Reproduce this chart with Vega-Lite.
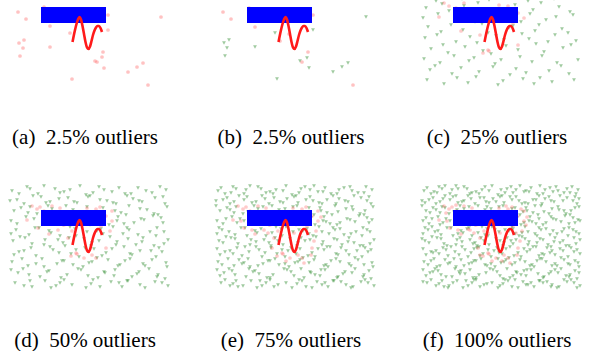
{
"$schema":"https://vega.github.io/schema/vega-lite/v6.json",
"padding":0,
"spacing":35,
"config":{"view":{"stroke":null},"axis":{"disable":true},"title":{"font":"Times New Roman, Liberation Serif, DejaVu Serif, serif","fontSize":21,"fontWeight":"normal","color":"#000000","orient":"bottom","anchor":"middle","offset":32}},
"datasets":{
"block":[{"x":41,"x2":106,"y":7,"y2":23}],
"curve":[{"x":72.5,"y":42},{"x":73.5,"y":37},{"x":75,"y":30},{"x":76.5,"y":24},{"x":78,"y":19.5},{"x":79.5,"y":17},{"x":81,"y":19.5},{"x":82.5,"y":26},{"x":84,"y":34},{"x":85.5,"y":42},{"x":87,"y":47.5},{"x":88.5,"y":49},{"x":90,"y":46.5},{"x":91.5,"y":41},{"x":93,"y":35},{"x":94.5,"y":30.5},{"x":96,"y":27.5},{"x":97.5,"y":26},{"x":99,"y":26},{"x":100.5,"y":28},{"x":102,"y":32}],
"sparse":[
{"p":"a","k":"r","x":18,"y":12},{"p":"a","k":"r","x":26,"y":19},{"p":"a","k":"r","x":44,"y":7},{"p":"a","k":"r","x":108,"y":15},{"p":"a","k":"r","x":50,"y":26},{"p":"a","k":"r","x":70,"y":33},{"p":"a","k":"r","x":108,"y":30},{"p":"a","k":"r","x":24,"y":40},{"p":"a","k":"r","x":19,"y":43},{"p":"a","k":"r","x":23,"y":48},{"p":"a","k":"r","x":50,"y":47},{"p":"a","k":"r","x":20,"y":56},{"p":"a","k":"r","x":103,"y":52},{"p":"a","k":"r","x":102,"y":57},{"p":"a","k":"r","x":95,"y":61},{"p":"a","k":"r","x":97,"y":62},{"p":"a","k":"r","x":104,"y":68},{"p":"a","k":"r","x":72,"y":79},{"p":"a","k":"r","x":128,"y":72},{"p":"a","k":"r","x":137,"y":67},{"p":"a","k":"r","x":143,"y":63},{"p":"a","k":"r","x":148,"y":85},{"p":"a","k":"r","x":161,"y":17},
{"p":"b","k":"r","x":17,"y":12},{"p":"b","k":"r","x":25,"y":19},{"p":"b","k":"r","x":43,"y":8},{"p":"b","k":"r","x":104,"y":9},{"p":"b","k":"r","x":107,"y":15},{"p":"b","k":"r","x":49,"y":27},{"p":"b","k":"r","x":83,"y":34},{"p":"b","k":"r","x":102,"y":52},{"p":"b","k":"r","x":96,"y":62},{"p":"b","k":"r","x":147,"y":85},{"p":"b","k":"r","x":74,"y":41},
{"p":"b","k":"g","x":160,"y":17},{"p":"b","k":"g","x":107,"y":30},{"p":"b","k":"g","x":69,"y":33},{"p":"b","k":"g","x":23,"y":40},{"p":"b","k":"g","x":18,"y":43},{"p":"b","k":"g","x":21,"y":48},{"p":"b","k":"g","x":49,"y":47},{"p":"b","k":"g","x":19,"y":56},{"p":"b","k":"g","x":101,"y":58},{"p":"b","k":"g","x":94,"y":61},{"p":"b","k":"g","x":103,"y":68},{"p":"b","k":"g","x":71,"y":79},{"p":"b","k":"g","x":127,"y":72},{"p":"b","k":"g","x":136,"y":67},{"p":"b","k":"g","x":142,"y":63}],
"pink":[
{"l":1,"x":32,"y":3},{"l":1,"x":37,"y":6},{"l":1,"x":52,"y":3},{"l":1,"x":44,"y":8},{"l":1,"x":106,"y":13},{"l":1,"x":96,"y":6},{"l":1,"x":27,"y":17},{"l":1,"x":49,"y":31},{"l":1,"x":68,"y":35},{"l":1,"x":76,"y":50},{"l":1,"x":77,"y":51},{"l":1,"x":106,"y":45},{"l":1,"x":112,"y":18},{"l":1,"x":87,"y":5},{"l":1,"x":71,"y":53},{"l":1,"x":101,"y":23},
{"l":2,"x":38,"y":25},{"l":2,"x":58,"y":27},{"l":2,"x":110,"y":28},{"l":2,"x":64,"y":22},{"l":2,"x":92,"y":52},{"l":2,"x":96,"y":55},{"l":2,"x":84,"y":55},{"l":2,"x":72,"y":28},{"l":2,"x":112,"y":8},{"l":2,"x":40,"y":4},{"l":2,"x":60,"y":5},{"l":2,"x":100,"y":4},
{"l":3,"x":35,"y":18},{"l":3,"x":62,"y":30},{"l":3,"x":108,"y":38},{"l":3,"x":80,"y":58},{"l":3,"x":88,"y":30},{"l":3,"x":115,"y":14},{"l":3,"x":46,"y":27},{"l":3,"x":105,"y":52},{"l":3,"x":66,"y":45},{"l":3,"x":98,"y":60},
{"l":4,"x":34,"y":10},{"l":4,"x":56,"y":26},{"l":4,"x":114,"y":22},{"l":4,"x":90,"y":58},{"l":4,"x":76,"y":30},{"l":4,"x":104,"y":30},{"l":4,"x":44,"y":2},{"l":4,"x":94,"y":3},{"l":4,"x":68,"y":52},{"l":4,"x":109,"y":6}],
"green":[
{"l":1,"x":12,"y":-12},{"l":1,"x":27,"y":-16},{"l":1,"x":38,"y":-9},{"l":1,"x":55,"y":-14},{"l":1,"x":64,"y":-11},{"l":1,"x":80,"y":-17},{"l":1,"x":93,"y":-10},{"l":1,"x":104,"y":-13},{"l":1,"x":119,"y":-15},{"l":1,"x":131,"y":-9},{"l":1,"x":146,"y":-12},{"l":1,"x":160,"y":-16},
{"l":1,"x":17,"y":-3},{"l":1,"x":24,"y":1},{"l":1,"x":41,"y":-6},{"l":1,"x":50,"y":-1},{"l":1,"x":68,"y":-5},{"l":1,"x":77,"y":0},{"l":1,"x":90,"y":-7},{"l":1,"x":107,"y":-2},{"l":1,"x":116,"y":1},{"l":1,"x":133,"y":-4},{"l":1,"x":142,"y":-1},{"l":1,"x":163,"y":-6},
{"l":1,"x":14,"y":8},{"l":1,"x":30,"y":4},{"l":1,"x":37,"y":11},{"l":1,"x":52,"y":6},{"l":1,"x":66,"y":3},{"l":1,"x":82,"y":9},{"l":1,"x":95,"y":12},{"l":1,"x":103,"y":5},{"l":1,"x":121,"y":10},{"l":1,"x":129,"y":3},{"l":1,"x":147,"y":7},{"l":1,"x":158,"y":12},
{"l":1,"x":11,"y":18},{"l":1,"x":26,"y":14},{"l":1,"x":43,"y":21},{"l":1,"x":54,"y":16},{"l":1,"x":63,"y":22},{"l":1,"x":78,"y":15},{"l":1,"x":88,"y":19},{"l":1,"x":109,"y":22},{"l":1,"x":118,"y":14},{"l":1,"x":134,"y":20},{"l":1,"x":144,"y":17},{"l":1,"x":161,"y":15},
{"l":1,"x":16,"y":27},{"l":1,"x":29,"y":32},{"l":1,"x":39,"y":25},{"l":1,"x":51,"y":30},{"l":1,"x":70,"y":24},{"l":1,"x":76,"y":33},{"l":1,"x":97,"y":28},{"l":1,"x":101,"y":26},{"l":1,"x":123,"y":31},{"l":1,"x":127,"y":25},{"l":1,"x":150,"y":29},{"l":1,"x":156,"y":33},
{"l":1,"x":13,"y":38},{"l":1,"x":25,"y":35},{"l":1,"x":44,"y":42},{"l":1,"x":58,"y":37},{"l":1,"x":65,"y":43},{"l":1,"x":84,"y":36},{"l":1,"x":92,"y":40},{"l":1,"x":110,"y":34},{"l":1,"x":117,"y":39},{"l":1,"x":136,"y":42},{"l":1,"x":143,"y":35},{"l":1,"x":164,"y":41},
{"l":1,"x":19,"y":49},{"l":1,"x":31,"y":45},{"l":1,"x":36,"y":53},{"l":1,"x":53,"y":47},{"l":1,"x":71,"y":51},{"l":1,"x":79,"y":54},{"l":1,"x":94,"y":46},{"l":1,"x":106,"y":50},{"l":1,"x":124,"y":44},{"l":1,"x":132,"y":52},{"l":1,"x":151,"y":48},{"l":1,"x":159,"y":45},
{"l":1,"x":12,"y":59},{"l":1,"x":28,"y":63},{"l":1,"x":42,"y":56},{"l":1,"x":57,"y":61},{"l":1,"x":62,"y":58},{"l":1,"x":83,"y":64},{"l":1,"x":89,"y":60},{"l":1,"x":108,"y":57},{"l":1,"x":120,"y":62},{"l":1,"x":130,"y":56},{"l":1,"x":145,"y":63},{"l":1,"x":166,"y":60},
{"l":1,"x":18,"y":70},{"l":1,"x":23,"y":66},{"l":1,"x":40,"y":74},{"l":1,"x":49,"y":68},{"l":1,"x":67,"y":72},{"l":1,"x":81,"y":67},{"l":1,"x":98,"y":75},{"l":1,"x":104,"y":69},{"l":1,"x":114,"y":73},{"l":1,"x":137,"y":71},{"l":1,"x":149,"y":66},{"l":1,"x":157,"y":74},
{"l":1,"x":15,"y":80},{"l":1,"x":32,"y":84},{"l":1,"x":45,"y":78},{"l":1,"x":56,"y":83},{"l":1,"x":64,"y":77},{"l":1,"x":86,"y":85},{"l":1,"x":91,"y":81},{"l":1,"x":111,"y":79},{"l":1,"x":122,"y":84},{"l":1,"x":128,"y":78},{"l":1,"x":140,"y":82},{"l":1,"x":162,"y":80},
{"l":2,"x":19,"y":-9},{"l":2,"x":30,"y":-14},{"l":2,"x":44,"y":-17},{"l":2,"x":60,"y":-10},{"l":2,"x":70,"y":-13},{"l":2,"x":86,"y":-8},{"l":2,"x":99,"y":-16},{"l":2,"x":112,"y":-11},{"l":2,"x":125,"y":-9},{"l":2,"x":138,"y":-15},{"l":2,"x":152,"y":-10},{"l":2,"x":166,"y":-13},
{"l":2,"x":10,"y":-2},{"l":2,"x":33,"y":-7},{"l":2,"x":46,"y":0},{"l":2,"x":59,"y":-4},{"l":2,"x":74,"y":-1},{"l":2,"x":88,"y":-6},{"l":2,"x":100,"y":-3},{"l":2,"x":113,"y":0},{"l":2,"x":127,"y":-7},{"l":2,"x":139,"y":-2},{"l":2,"x":155,"y":-5},{"l":2,"x":165,"y":1},
{"l":2,"x":21,"y":5},{"l":2,"x":28,"y":10},{"l":2,"x":48,"y":3},{"l":2,"x":61,"y":12},{"l":2,"x":73,"y":7},{"l":2,"x":87,"y":4},{"l":2,"x":96,"y":10},{"l":2,"x":115,"y":8},{"l":2,"x":126,"y":12},{"l":2,"x":140,"y":6},{"l":2,"x":154,"y":11},{"l":2,"x":167,"y":4},
{"l":2,"x":17,"y":21},{"l":2,"x":34,"y":16},{"l":2,"x":47,"y":14},{"l":2,"x":62,"y":19},{"l":2,"x":72,"y":17},{"l":2,"x":90,"y":22},{"l":2,"x":101,"y":14},{"l":2,"x":117,"y":18},{"l":2,"x":124,"y":21},{"l":2,"x":141,"y":16},{"l":2,"x":153,"y":13},{"l":2,"x":163,"y":20},
{"l":2,"x":11,"y":31},{"l":2,"x":35,"y":25},{"l":2,"x":49,"y":28},{"l":2,"x":60,"y":33},{"l":2,"x":75,"y":26},{"l":2,"x":87,"y":29},{"l":2,"x":103,"y":31},{"l":2,"x":113,"y":24},{"l":2,"x":129,"y":27},{"l":2,"x":138,"y":32},{"l":2,"x":157,"y":25},{"l":2,"x":164,"y":29},
{"l":2,"x":20,"y":34},{"l":2,"x":32,"y":41},{"l":2,"x":45,"y":37},{"l":2,"x":63,"y":40},{"l":2,"x":69,"y":35},{"l":2,"x":91,"y":43},{"l":2,"x":99,"y":38},{"l":2,"x":116,"y":42},{"l":2,"x":128,"y":36},{"l":2,"x":142,"y":39},{"l":2,"x":154,"y":43},{"l":2,"x":168,"y":37},
{"l":2,"x":14,"y":52},{"l":2,"x":24,"y":48},{"l":2,"x":50,"y":44},{"l":2,"x":59,"y":50},{"l":2,"x":76,"y":47},{"l":2,"x":85,"y":45},{"l":2,"x":102,"y":53},{"l":2,"x":112,"y":46},{"l":2,"x":130,"y":51},{"l":2,"x":140,"y":48},{"l":2,"x":156,"y":54},{"l":2,"x":162,"y":49},
{"l":2,"x":22,"y":56},{"l":2,"x":36,"y":61},{"l":2,"x":44,"y":64},{"l":2,"x":64,"y":58},{"l":2,"x":73,"y":62},{"l":2,"x":92,"y":59},{"l":2,"x":97,"y":55},{"l":2,"x":118,"y":63},{"l":2,"x":125,"y":58},{"l":2,"x":143,"y":61},{"l":2,"x":152,"y":57},{"l":2,"x":167,"y":64},
{"l":2,"x":11,"y":67},{"l":2,"x":29,"y":72},{"l":2,"x":47,"y":69},{"l":2,"x":61,"y":75},{"l":2,"x":78,"y":66},{"l":2,"x":88,"y":73},{"l":2,"x":105,"y":70},{"l":2,"x":115,"y":67},{"l":2,"x":132,"y":74},{"l":2,"x":139,"y":69},{"l":2,"x":158,"y":72},{"l":2,"x":165,"y":76},
{"l":2,"x":24,"y":83},{"l":2,"x":30,"y":78},{"l":2,"x":51,"y":85},{"l":2,"x":60,"y":80},{"l":2,"x":72,"y":82},{"l":2,"x":93,"y":77},{"l":2,"x":100,"y":84},{"l":2,"x":119,"y":80},{"l":2,"x":127,"y":78},{"l":2,"x":145,"y":85},{"l":2,"x":155,"y":79},{"l":2,"x":168,"y":83},
{"l":3,"x":15,"y":-15},{"l":3,"x":25,"y":-10},{"l":3,"x":40,"y":-13},{"l":3,"x":52,"y":-16},{"l":3,"x":67,"y":-9},{"l":3,"x":77,"y":-12},{"l":3,"x":95,"y":-14},{"l":3,"x":108,"y":-17},{"l":3,"x":117,"y":-11},{"l":3,"x":133,"y":-13},{"l":3,"x":144,"y":-16},{"l":3,"x":158,"y":-10},
{"l":3,"x":21,"y":-5},{"l":3,"x":28,"y":-1},{"l":3,"x":38,"y":-3},{"l":3,"x":56,"y":-7},{"l":3,"x":63,"y":1},{"l":3,"x":81,"y":-4},{"l":3,"x":92,"y":0},{"l":3,"x":104,"y":-6},{"l":3,"x":121,"y":-3},{"l":3,"x":130,"y":1},{"l":3,"x":148,"y":-7},{"l":3,"x":161,"y":-2},
{"l":3,"x":10,"y":3},{"l":3,"x":24,"y":7},{"l":3,"x":42,"y":9},{"l":3,"x":57,"y":4},{"l":3,"x":69,"y":11},{"l":3,"x":79,"y":6},{"l":3,"x":91,"y":3},{"l":3,"x":108,"y":12},{"l":3,"x":114,"y":5},{"l":3,"x":132,"y":9},{"l":3,"x":146,"y":4},{"l":3,"x":159,"y":8},
{"l":3,"x":20,"y":16},{"l":3,"x":31,"y":20},{"l":3,"x":38,"y":18},{"l":3,"x":51,"y":14},{"l":3,"x":67,"y":20},{"l":3,"x":83,"y":17},{"l":3,"x":96,"y":21},{"l":3,"x":105,"y":15},{"l":3,"x":120,"y":19},{"l":3,"x":131,"y":22},{"l":3,"x":149,"y":19},{"l":3,"x":166,"y":17},
{"l":3,"x":13,"y":25},{"l":3,"x":23,"y":29},{"l":3,"x":41,"y":33},{"l":3,"x":55,"y":26},{"l":3,"x":66,"y":30},{"l":3,"x":80,"y":24},{"l":3,"x":93,"y":27},{"l":3,"x":107,"y":33},{"l":3,"x":116,"y":29},{"l":3,"x":134,"y":26},{"l":3,"x":145,"y":31},{"l":3,"x":161,"y":27},
{"l":3,"x":17,"y":40},{"l":3,"x":29,"y":36},{"l":3,"x":39,"y":44},{"l":3,"x":50,"y":39},{"l":3,"x":72,"y":38},{"l":3,"x":77,"y":42},{"l":3,"x":95,"y":35},{"l":3,"x":104,"y":37},{"l":3,"x":121,"y":44},{"l":3,"x":131,"y":37},{"l":3,"x":148,"y":40},{"l":3,"x":157,"y":43},
{"l":3,"x":11,"y":46},{"l":3,"x":27,"y":51},{"l":3,"x":43,"y":49},{"l":3,"x":56,"y":54},{"l":3,"x":65,"y":45},{"l":3,"x":82,"y":48},{"l":3,"x":90,"y":51},{"l":3,"x":109,"y":54},{"l":3,"x":118,"y":47},{"l":3,"x":135,"y":45},{"l":3,"x":143,"y":52},{"l":3,"x":165,"y":47},
{"l":3,"x":16,"y":62},{"l":3,"x":33,"y":57},{"l":3,"x":38,"y":60},{"l":3,"x":52,"y":63},{"l":3,"x":69,"y":56},{"l":3,"x":79,"y":61},{"l":3,"x":94,"y":57},{"l":3,"x":103,"y":60},{"l":3,"x":122,"y":64},{"l":3,"x":134,"y":59},{"l":3,"x":149,"y":55},{"l":3,"x":158,"y":62},
{"l":3,"x":14,"y":73},{"l":3,"x":26,"y":68},{"l":3,"x":43,"y":66},{"l":3,"x":53,"y":71},{"l":3,"x":64,"y":75},{"l":3,"x":85,"y":69},{"l":3,"x":95,"y":66},{"l":3,"x":109,"y":72},{"l":3,"x":119,"y":67},{"l":3,"x":131,"y":75},{"l":3,"x":146,"y":70},{"l":3,"x":163,"y":68},
{"l":3,"x":19,"y":77},{"l":3,"x":27,"y":81},{"l":3,"x":37,"y":83},{"l":3,"x":54,"y":78},{"l":3,"x":68,"y":84},{"l":3,"x":80,"y":80},{"l":3,"x":96,"y":78},{"l":3,"x":106,"y":85},{"l":3,"x":116,"y":82},{"l":3,"x":135,"y":79},{"l":3,"x":147,"y":84},{"l":3,"x":159,"y":77},
{"l":4,"x":22,"y":-11},{"l":4,"x":33,"y":-17},{"l":4,"x":46,"y":-14},{"l":4,"x":58,"y":-9},{"l":4,"x":73,"y":-16},{"l":4,"x":89,"y":-13},{"l":4,"x":101,"y":-10},{"l":4,"x":114,"y":-12},{"l":4,"x":128,"y":-17},{"l":4,"x":141,"y":-11},{"l":4,"x":155,"y":-14},{"l":4,"x":164,"y":-9},
{"l":4,"x":13,"y":0},{"l":4,"x":31,"y":-4},{"l":4,"x":44,"y":-7},{"l":4,"x":52,"y":-2},{"l":4,"x":72,"y":-5},{"l":4,"x":84,"y":-1},{"l":4,"x":98,"y":-6},{"l":4,"x":110,"y":1},{"l":4,"x":124,"y":-3},{"l":4,"x":137,"y":-6},{"l":4,"x":151,"y":-2},{"l":4,"x":167,"y":-4},
{"l":4,"x":18,"y":10},{"l":4,"x":33,"y":5},{"l":4,"x":45,"y":7},{"l":4,"x":60,"y":11},{"l":4,"x":75,"y":4},{"l":4,"x":85,"y":12},{"l":4,"x":100,"y":6},{"l":4,"x":111,"y":9},{"l":4,"x":123,"y":3},{"l":4,"x":137,"y":11},{"l":4,"x":152,"y":8},{"l":4,"x":163,"y":5},
{"l":4,"x":14,"y":15},{"l":4,"x":28,"y":22},{"l":4,"x":46,"y":17},{"l":4,"x":59,"y":21},{"l":4,"x":70,"y":14},{"l":4,"x":86,"y":19},{"l":4,"x":93,"y":16},{"l":4,"x":112,"y":20},{"l":4,"x":127,"y":16},{"l":4,"x":139,"y":14},{"l":4,"x":157,"y":21},{"l":4,"x":168,"y":18},
{"l":4,"x":20,"y":24},{"l":4,"x":26,"y":28},{"l":4,"x":46,"y":31},{"l":4,"x":57,"y":25},{"l":4,"x":73,"y":32},{"l":4,"x":83,"y":27},{"l":4,"x":100,"y":24},{"l":4,"x":110,"y":30},{"l":4,"x":125,"y":33},{"l":4,"x":141,"y":28},{"l":4,"x":152,"y":26},{"l":4,"x":167,"y":31},
{"l":4,"x":10,"y":36},{"l":4,"x":35,"y":43},{"l":4,"x":48,"y":35},{"l":4,"x":61,"y":41},{"l":4,"x":67,"y":44},{"l":4,"x":88,"y":38},{"l":4,"x":101,"y":41},{"l":4,"x":113,"y":36},{"l":4,"x":125,"y":40},{"l":4,"x":139,"y":44},{"l":4,"x":151,"y":38},{"l":4,"x":162,"y":35},
{"l":4,"x":21,"y":50},{"l":4,"x":34,"y":47},{"l":4,"x":47,"y":52},{"l":4,"x":62,"y":46},{"l":4,"x":68,"y":53},{"l":4,"x":87,"y":50},{"l":4,"x":98,"y":44},{"l":4,"x":115,"y":49},{"l":4,"x":127,"y":53},{"l":4,"x":138,"y":50},{"l":4,"x":148,"y":46},{"l":4,"x":168,"y":51},
{"l":4,"x":19,"y":58},{"l":4,"x":25,"y":64},{"l":4,"x":49,"y":57},{"l":4,"x":60,"y":60},{"l":4,"x":75,"y":63},{"l":4,"x":86,"y":56},{"l":4,"x":100,"y":62},{"l":4,"x":113,"y":59},{"l":4,"x":128,"y":56},{"l":4,"x":140,"y":63},{"l":4,"x":156,"y":61},{"l":4,"x":163,"y":58},
{"l":4,"x":21,"y":69},{"l":4,"x":34,"y":74},{"l":4,"x":48,"y":71},{"l":4,"x":58,"y":67},{"l":4,"x":74,"y":70},{"l":4,"x":91,"y":76},{"l":4,"x":101,"y":73},{"l":4,"x":112,"y":68},{"l":4,"x":126,"y":71},{"l":4,"x":143,"y":67},{"l":4,"x":154,"y":73},{"l":4,"x":167,"y":70},
{"l":4,"x":11,"y":79},{"l":4,"x":36,"y":85},{"l":4,"x":41,"y":80},{"l":4,"x":62,"y":77},{"l":4,"x":75,"y":81},{"l":4,"x":88,"y":83},{"l":4,"x":103,"y":77},{"l":4,"x":114,"y":82},{"l":4,"x":131,"y":80},{"l":4,"x":139,"y":84},{"l":4,"x":152,"y":77},{"l":4,"x":165,"y":85}]
},
"vconcat":[
{"hconcat":[
{"width":170,"height":95,"title":{"text":"(a)\u00a0 2.5% outliers","orient":"bottom","font":"Times New Roman, Liberation Serif, DejaVu Serif, serif","fontSize":21,"fontWeight":"normal","offset":32},
"encoding":{"x":{"field":"x","type":"quantitative","scale":{"domain":[0,170],"nice":false}},"y":{"field":"y","type":"quantitative","scale":{"domain":[0,95],"nice":false,"reverse":true}}},
"layer":[
{"data":{"name":"sparse"},"transform":[{"filter":"datum.p=='a' && datum.k=='r'"}],"mark":{"type":"point","shape":"circle","filled":true,"color":"#ff5050","opacity":0.35,"size":14,"clip":true}},
{"data":{"name":"block"},"mark":{"type":"rect","color":"#0000ff"},"encoding":{"x2":{"field":"x2"},"y2":{"field":"y2"}}},
{"data":{"name":"curve"},"mark":{"type":"line","color":"#ff1a1a","strokeWidth":2.6,"interpolate":"monotone"},"encoding":{}}]},
{"width":170,"height":95,"title":{"text":"(b)\u00a0 2.5% outliers","orient":"bottom","font":"Times New Roman, Liberation Serif, DejaVu Serif, serif","fontSize":21,"fontWeight":"normal","offset":32},
"encoding":{"x":{"field":"x","type":"quantitative","scale":{"domain":[0,170],"nice":false}},"y":{"field":"y","type":"quantitative","scale":{"domain":[0,95],"nice":false,"reverse":true}}},
"layer":[
{"data":{"name":"sparse"},"transform":[{"filter":"datum.p=='b' && datum.k=='g'"}],"mark":{"type":"point","shape":"triangle-down","filled":true,"color":"#2e8b2e","opacity":0.45,"size":15,"clip":true}},
{"data":{"name":"sparse"},"transform":[{"filter":"datum.p=='b' && datum.k=='r'"}],"mark":{"type":"point","shape":"circle","filled":true,"color":"#ff5050","opacity":0.35,"size":14,"clip":true}},
{"data":{"name":"block"},"mark":{"type":"rect","color":"#0000ff"},"encoding":{"x2":{"field":"x2"},"y2":{"field":"y2"}}},
{"data":{"name":"curve"},"mark":{"type":"line","color":"#ff1a1a","strokeWidth":2.6,"interpolate":"monotone"},"encoding":{}}]},
{"width":170,"height":95,"title":{"text":"(c)\u00a0 25% outliers","orient":"bottom","font":"Times New Roman, Liberation Serif, DejaVu Serif, serif","fontSize":21,"fontWeight":"normal","offset":32},
"encoding":{"x":{"field":"x","type":"quantitative","scale":{"domain":[0,170],"nice":false}},"y":{"field":"y","type":"quantitative","scale":{"domain":[0,95],"nice":false,"reverse":true}}},
"layer":[
{"data":{"name":"green"},"transform":[{"filter":"datum.l<=1"}],"mark":{"type":"point","shape":"triangle-down","filled":true,"color":"#2e8b2e","opacity":0.45,"size":15,"clip":true}},
{"data":{"name":"pink"},"transform":[{"filter":"datum.l<=1"}],"mark":{"type":"point","shape":"circle","filled":true,"color":"#ff5050","opacity":0.3,"size":14,"clip":true}},
{"data":{"name":"block"},"mark":{"type":"rect","color":"#0000ff"},"encoding":{"x2":{"field":"x2"},"y2":{"field":"y2"}}},
{"data":{"name":"curve"},"mark":{"type":"line","color":"#ff1a1a","strokeWidth":2.6,"interpolate":"monotone"},"encoding":{}}]}
],"spacing":36},
{"hconcat":[
{"width":170,"height":115,"title":{"text":"(d)\u00a0 50% outliers","orient":"bottom","font":"Times New Roman, Liberation Serif, DejaVu Serif, serif","fontSize":21,"fontWeight":"normal","offset":32},
"encoding":{"x":{"field":"x","type":"quantitative","scale":{"domain":[0,170],"nice":false}},"y":{"field":"y","type":"quantitative","scale":{"domain":[-20,95],"nice":false,"reverse":true}}},
"layer":[
{"data":{"name":"green"},"transform":[{"filter":"datum.l<=2"}],"mark":{"type":"point","shape":"triangle-down","filled":true,"color":"#2e8b2e","opacity":0.45,"size":15,"clip":true}},
{"data":{"name":"pink"},"transform":[{"filter":"datum.l<=2"}],"mark":{"type":"point","shape":"circle","filled":true,"color":"#ff5050","opacity":0.3,"size":14,"clip":true}},
{"data":{"name":"block"},"mark":{"type":"rect","color":"#0000ff"},"encoding":{"x2":{"field":"x2"},"y2":{"field":"y2"}}},
{"data":{"name":"curve"},"mark":{"type":"line","color":"#ff1a1a","strokeWidth":2.6,"interpolate":"monotone"},"encoding":{}}]},
{"width":170,"height":115,"title":{"text":"(e)\u00a0 75% outliers","orient":"bottom","font":"Times New Roman, Liberation Serif, DejaVu Serif, serif","fontSize":21,"fontWeight":"normal","offset":32},
"encoding":{"x":{"field":"x","type":"quantitative","scale":{"domain":[0,170],"nice":false}},"y":{"field":"y","type":"quantitative","scale":{"domain":[-20,95],"nice":false,"reverse":true}}},
"layer":[
{"data":{"name":"green"},"transform":[{"filter":"datum.l<=3"}],"mark":{"type":"point","shape":"triangle-down","filled":true,"color":"#2e8b2e","opacity":0.45,"size":15,"clip":true}},
{"data":{"name":"pink"},"transform":[{"filter":"datum.l<=3"}],"mark":{"type":"point","shape":"circle","filled":true,"color":"#ff5050","opacity":0.3,"size":14,"clip":true}},
{"data":{"name":"block"},"mark":{"type":"rect","color":"#0000ff"},"encoding":{"x2":{"field":"x2"},"y2":{"field":"y2"}}},
{"data":{"name":"curve"},"mark":{"type":"line","color":"#ff1a1a","strokeWidth":2.6,"interpolate":"monotone"},"encoding":{}}]},
{"width":170,"height":115,"title":{"text":"(f)\u00a0 100% outliers","orient":"bottom","font":"Times New Roman, Liberation Serif, DejaVu Serif, serif","fontSize":21,"fontWeight":"normal","offset":32},
"encoding":{"x":{"field":"x","type":"quantitative","scale":{"domain":[0,170],"nice":false}},"y":{"field":"y","type":"quantitative","scale":{"domain":[-20,95],"nice":false,"reverse":true}}},
"layer":[
{"data":{"name":"green"},"transform":[{"filter":"datum.l<=4"}],"mark":{"type":"point","shape":"triangle-down","filled":true,"color":"#2e8b2e","opacity":0.45,"size":15,"clip":true}},
{"data":{"name":"pink"},"transform":[{"filter":"datum.l<=4"}],"mark":{"type":"point","shape":"circle","filled":true,"color":"#ff5050","opacity":0.3,"size":14,"clip":true}},
{"data":{"name":"block"},"mark":{"type":"rect","color":"#0000ff"},"encoding":{"x2":{"field":"x2"},"y2":{"field":"y2"}}},
{"data":{"name":"curve"},"mark":{"type":"line","color":"#ff1a1a","strokeWidth":2.6,"interpolate":"monotone"},"encoding":{}}]}
],"spacing":36}
]
}
